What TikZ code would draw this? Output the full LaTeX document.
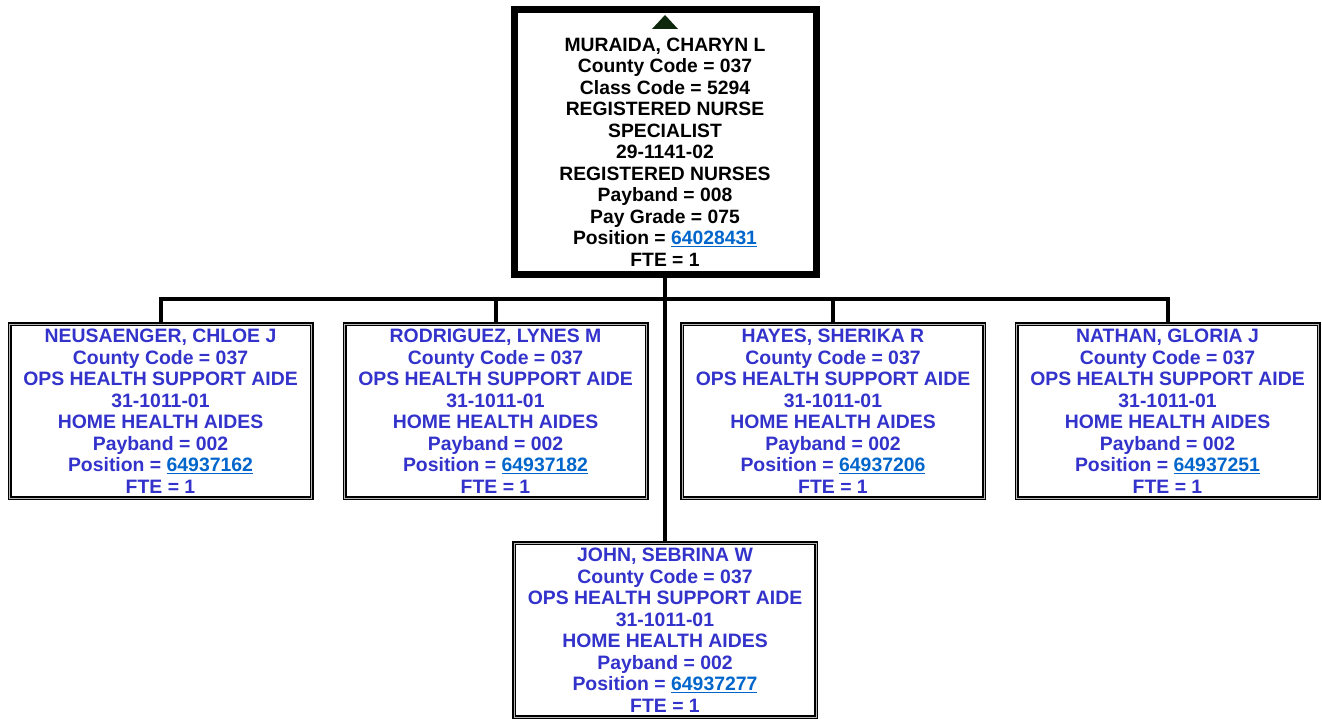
\documentclass[tikz,border=0pt]{standalone}
\usepackage{fontspec}
\setmainfont{Liberation Sans}
\usetikzlibrary{calc}
\definecolor{nameblue}{RGB}{51,51,204}
\definecolor{linkblue}{RGB}{0,102,204}
\definecolor{markgreen}{RGB}{14,40,14}
\newcommand\poslink[1]{\textcolor{linkblue}{\underline{#1}}}
\tikzset{
  chiefbox/.style={draw=black, line width=7pt, fill=white, minimum width=302pt, minimum height=265pt, inner sep=0pt},
  staffbox/.style={draw=black, double=gray!55, line width=1.5pt, double distance=1pt, fill=white, minimum width=302pt, minimum height=174pt, inner sep=0pt},
  chieftext/.style={align=center, inner sep=0pt, font=\fontsize{19.3pt}{21.5pt}\selectfont\bfseries, text=black},
  stafftext/.style={align=center, inner sep=0pt, font=\fontsize{19.4pt}{21.5pt}\selectfont\bfseries, text=nameblue},
  conn/.style={draw=black, line width=4pt}
}
\begin{document}
\begin{tikzpicture}
\useasboundingbox[fill=white] (0,0) rectangle (1322pt,-719pt);

% supervisor
\node[chiefbox] (top) at (665pt,-142pt) {};
\fill[markgreen] (665pt,-15pt) -- (678pt,-29pt) -- (652pt,-29pt) -- cycle;
\node[chieftext] (toptext) at (665pt,-152pt) {MURAIDA, CHARYN L\\County Code = 037\\Class Code = 5294\\REGISTERED NURSE\\SPECIALIST\\29-1141-02\\REGISTERED NURSES\\Payband = 008\\Pay Grade = 075\\Position = \poslink{64028431}\\FTE = 1};

% direct reports
\node[staffbox] (c1) at (160.5pt,-411pt) {};
\node[staffbox] (c2) at (495.5pt,-411pt) {};
\node[staffbox] (c3) at (833pt,-411pt) {};
\node[staffbox] (c4) at (1167.5pt,-411pt) {};
\node[staffbox] (c5) at (665pt,-630pt) {};

\node[stafftext] (t1) at (c1) {NEUSAENGER, CHLOE J\\County Code = 037\\OPS HEALTH SUPPORT AIDE\\31-1011-01\\HOME HEALTH AIDES\\Payband = 002\\Position = \poslink{64937162}\\FTE = 1};
\node[stafftext] (t2) at (c2) {RODRIGUEZ, LYNES M\\County Code = 037\\OPS HEALTH SUPPORT AIDE\\31-1011-01\\HOME HEALTH AIDES\\Payband = 002\\Position = \poslink{64937182}\\FTE = 1};
\node[stafftext] (t3) at (c3) {HAYES, SHERIKA R\\County Code = 037\\OPS HEALTH SUPPORT AIDE\\31-1011-01\\HOME HEALTH AIDES\\Payband = 002\\Position = \poslink{64937206}\\FTE = 1};
\node[stafftext] (t4) at (c4) {NATHAN, GLORIA J\\County Code = 037\\OPS HEALTH SUPPORT AIDE\\31-1011-01\\HOME HEALTH AIDES\\Payband = 002\\Position = \poslink{64937251}\\FTE = 1};
\node[stafftext] (t5) at (c5) {JOHN, SEBRINA W\\County Code = 037\\OPS HEALTH SUPPORT AIDE\\31-1011-01\\HOME HEALTH AIDES\\Payband = 002\\Position = \poslink{64937277}\\FTE = 1};

% reporting lines
\coordinate (bus) at (0,-299pt);
\draw[conn] (top.south) -- (c5.north);
\draw[conn] (c1.north) -- (c1.north |- bus) -- (c4.north |- bus) -- (c4.north);
\draw[conn] (c2.north) -- (c2.north |- bus);
\draw[conn] (c3.north) -- (c3.north |- bus);
\end{tikzpicture}
\end{document}
